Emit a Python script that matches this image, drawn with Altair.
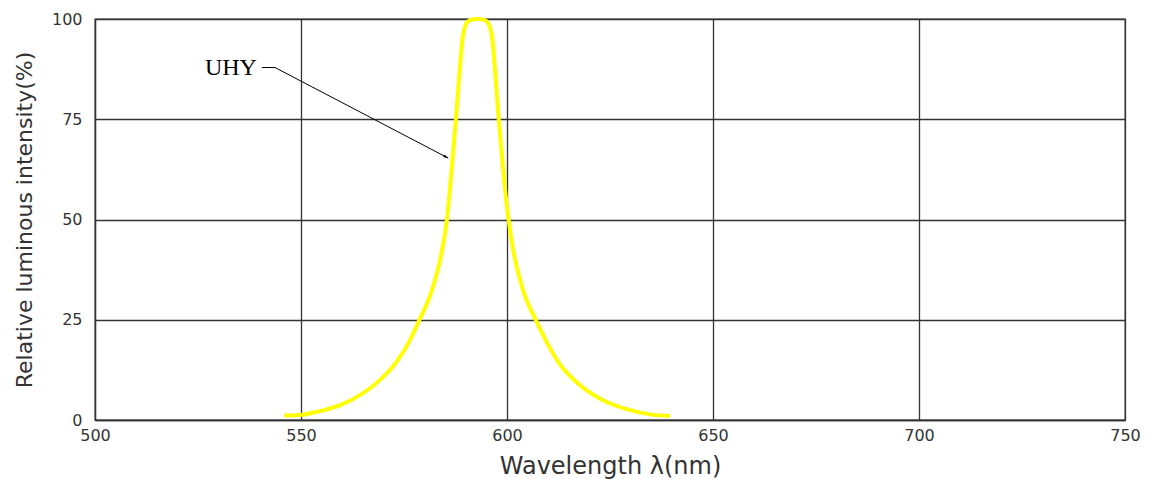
import altair as alt
import pandas as pd

# Spectrum curve
wavelength = [545.9, 549.8, 554.6, 559.5, 564.3, 569.2, 573.2, 576.5, 578.7, 581.5,
              584.1, 585.4, 585.9, 587.6, 589.4, 590.1, 591.2, 592.8, 594.4, 595.5, 596.25,
              598.0, 599.8, 600.4, 601.5, 603.9, 607.0, 609.2, 612.5, 616.9, 622.6, 629.0,
              634.7, 639.6]
intensity = [1.1, 1.25, 2.2, 3.7, 6.2, 10.0, 14.5, 20.0, 24.9, 31.5,
             41.6, 49.9, 54.9, 75.0, 96.4, 98.8, 99.8, 100.0, 99.8, 98.8, 96.4,
             75.0, 54.9, 49.9, 42.4, 32.4, 24.9, 20.3, 14.4, 9.4, 5.3, 2.7,
             1.4, 1.0]

x_ticks = [500, 550, 600, 650, 700, 750]
y_ticks = [0, 25, 50, 75, 100]

# Annotation (label + leader line)
label_text = ["UHY"]
label_x = [539.3]
label_y = [87.8]
leader_x = [540.5, 543.7, 585.75]
leader_y = [87.9, 87.9, 65.3]

curve = pd.DataFrame({"wl": wavelength, "val": intensity})
leader = pd.DataFrame({"wl": leader_x, "val": leader_y, "o": list(range(len(leader_x)))})
label = pd.DataFrame({"wl": label_x, "val": label_y, "t": label_text})
tip = leader.iloc[[-1]]

FONT = "DejaVu Sans"
TXT = "#333333"

xs = alt.Scale(domain=[500, 750], nice=False, zero=False)
ys = alt.Scale(domain=[0, 100], nice=False)

x_axis = alt.Axis(values=x_ticks, title="Wavelength  λ(nm)", ticks=False, labelFlush=False,
                  labelPadding=7, titlePadding=11, grid=True, format="d",
                  titleFontSize=24)
y_axis = alt.Axis(values=y_ticks, title="Relative luminous intensity(%)", ticks=False,
                  labelFlush=False, labelPadding=13, titlePadding=15, grid=True, format="d",
                  titleFontSize=22)

base_line = alt.Chart(curve).mark_line(
    color="#FFFF00", strokeWidth=4, interpolate="monotone"
).encode(
    x=alt.X("wl:Q", scale=xs, axis=x_axis),
    y=alt.Y("val:Q", scale=ys, axis=y_axis),
)

lead = alt.Chart(leader).mark_line(color="#000000", strokeWidth=1).encode(
    x=alt.X("wl:Q", scale=xs),
    y=alt.Y("val:Q", scale=ys),
    order="o:Q",
)

head = alt.Chart(tip).mark_point(
    shape="M0,0 L-2,-0.55 L-2,0.55 Z", filled=True, color="#000000",
    size=25, angle=28, opacity=1
).encode(
    x=alt.X("wl:Q", scale=xs),
    y=alt.Y("val:Q", scale=ys),
)

txt = alt.Chart(label).mark_text(
    font="Liberation Serif", fontSize=24, align="right", baseline="middle", color="#000000"
).encode(
    x=alt.X("wl:Q", scale=xs),
    y=alt.Y("val:Q", scale=ys),
    text="t:N",
)

chart = alt.layer(base_line, lead, head, txt).properties(
    width=1030, height=401,
    padding={"left": 5, "top": 3, "right": 0, "bottom": 5},
).configure_view(
    stroke="#333333", strokeWidth=1.3
).configure_axis(
    domainColor="#333333", domainWidth=1.3,
    gridColor="#333333", gridWidth=1.3, gridOpacity=1,
    labelFont=FONT, labelFontSize=16, labelColor=TXT,
    titleFont=FONT, titleColor=TXT, titleFontWeight="normal",
)

chart.save("out.html", embed_options={"renderer": "svg", "actions": False})
